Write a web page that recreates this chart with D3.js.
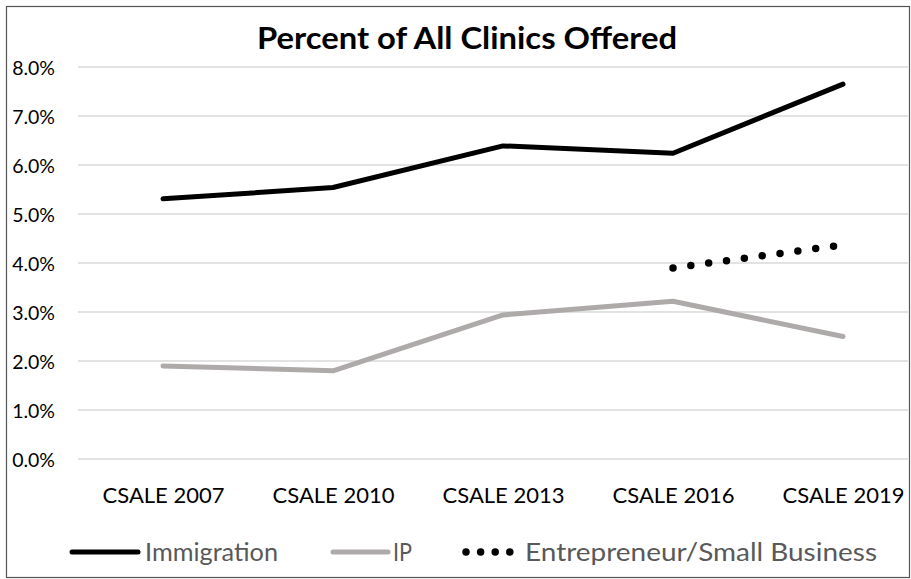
<!DOCTYPE html>
<html>
<head>
<meta charset="utf-8">
<script src="https://cdn.jsdelivr.net/npm/d3@7"></script>
<style>
  html, body { margin: 0; padding: 0; background: #fff; }
  svg { display: block; }
</style>
</head>
<body>
<svg id="chart" width="911" height="579"></svg>
<script>
const categories = ["CSALE 2007", "CSALE 2010", "CSALE 2013", "CSALE 2016", "CSALE 2019"];
const immigration = [5.31, 5.54, 6.39, 6.24, 7.65];
const ip = [1.90, 1.80, 2.94, 3.22, 2.50];
const entrepreneur = [null, null, null, 3.90, 4.37];
const yTicks = [0, 1, 2, 3, 4, 5, 6, 7, 8];
const seriesNames = ["Immigration", "IP", "Entrepreneur/Small Business"];

const FONT = "Lato, 'Open Sans', sans-serif";
const svg = d3.select("#chart");

// chart border
svg.append("rect").attr("x", 6.5).attr("y", 6.5).attr("width", 903).attr("height", 571)
  .attr("fill", "#fff").attr("stroke", "#555").attr("stroke-width", 1.2);

const x = d3.scalePoint().domain(categories).range([163, 843]);
const y = d3.scaleLinear().domain([0, 8]).range([459, 67]);

// gridlines
svg.append("g").selectAll("line").data(yTicks).join("line")
  .attr("x1", 78).attr("x2", 908)
  .attr("y1", d => y(d)).attr("y2", d => y(d))
  .attr("stroke", "#d9d9d9").attr("stroke-width", 1.3);

// y axis labels
const yAxis = d3.axisLeft(y).tickValues(yTicks).tickFormat(d => d.toFixed(1) + "%").tickSize(0).tickPadding(0);
const gy = svg.append("g").attr("transform", "translate(55,0)").call(yAxis);
gy.select(".domain").remove();
gy.selectAll("text").attr("font-family", FONT).attr("font-size", 19.5).attr("fill", "#000")
  .attr("dy", "0.36em");

// x axis labels
const xAxis = d3.axisBottom(x).tickSize(0).tickPadding(0);
const gx = svg.append("g").attr("transform", "translate(0,487)").call(xAxis);
gx.select(".domain").remove();
gx.selectAll("text").attr("font-family", FONT).attr("font-size", 22).attr("fill", "#000")
  .attr("dy", "0.71em");

// title
svg.append("text").attr("x", 467).attr("y", 49).attr("text-anchor", "middle")
  .attr("font-family", FONT).attr("font-weight", "bold").attr("font-size", 31).attr("fill", "#000")
  .attr("textLength", 420).attr("lengthAdjust", "spacingAndGlyphs")
  .text("Percent of All Clinics Offered");

const line = d3.line()
  .defined(d => d.v !== null)
  .x(d => x(d.c)).y(d => y(d.v));

const toPts = arr => categories.map((c, i) => ({ c, v: arr[i] }));

svg.append("path").datum(toPts(ip)).attr("d", line)
  .attr("fill", "none").attr("stroke", "#aeaaaa").attr("stroke-width", 5)
  .attr("stroke-linecap", "round").attr("stroke-linejoin", "round");

svg.append("path").datum(toPts(immigration)).attr("d", line)
  .attr("fill", "none").attr("stroke", "#000").attr("stroke-width", 5)
  .attr("stroke-linecap", "round").attr("stroke-linejoin", "round");

svg.append("path").datum(toPts(entrepreneur)).attr("d", line)
  .attr("fill", "none").attr("stroke", "#000").attr("stroke-width", 7.5)
  .attr("stroke-linecap", "round").attr("stroke-dasharray", "0 18");

// legend
const lg = svg.append("g").attr("font-family", FONT).attr("font-size", 25).attr("fill", "#595959");
lg.append("line").attr("x1", 72).attr("x2", 138).attr("y1", 552).attr("y2", 552)
  .attr("stroke", "#000").attr("stroke-width", 5).attr("stroke-linecap", "round");
lg.append("text").attr("x", 145).attr("y", 561).attr("textLength", 133)
  .attr("lengthAdjust", "spacingAndGlyphs").text(seriesNames[0]);
lg.append("line").attr("x1", 333).attr("x2", 388).attr("y1", 552).attr("y2", 552)
  .attr("stroke", "#aeaaaa").attr("stroke-width", 5).attr("stroke-linecap", "round");
lg.append("text").attr("x", 393).attr("y", 561).attr("textLength", 19)
  .attr("lengthAdjust", "spacingAndGlyphs").text(seriesNames[1]);
lg.append("line").attr("x1", 466).attr("x2", 510).attr("y1", 552).attr("y2", 552)
  .attr("stroke", "#000").attr("stroke-width", 7.5).attr("stroke-linecap", "round")
  .attr("stroke-dasharray", "0 14.6");
lg.append("text").attr("x", 525).attr("y", 561).attr("textLength", 352)
  .attr("lengthAdjust", "spacingAndGlyphs").text(seriesNames[2]);
</script>
</body>
</html>
